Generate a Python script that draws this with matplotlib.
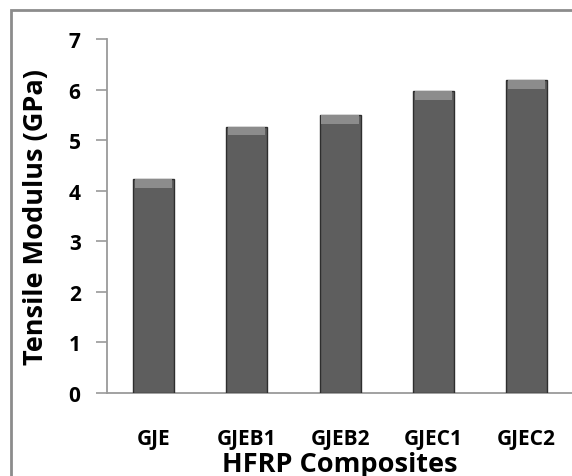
import matplotlib.pyplot as plt
from matplotlib.patches import Rectangle

# data
categories = ['GJE', 'GJEB1', 'GJEB2', 'GJEC1', 'GJEC2']
modulus = [4.23, 5.27, 5.49, 5.97, 6.19]
y_ticks = [0, 1, 2, 3, 4, 5, 6, 7]

plt.rcParams['font.family'] = ['Open Sans', 'DejaVu Sans']
plt.rcParams['font.weight'] = 'bold'

fig = plt.figure(figsize=(5.72, 4.77), dpi=100)
ax = fig.add_axes([0.187, 0.174, 0.815, 0.742])

# outer chart frame (runs off the right and bottom edges)
fig.patches.append(Rectangle((11 / 572, -0.1), 1.2, 1.1 - 11 / 477,
                             transform=fig.transFigure, fill=False,
                             edgecolor='#8c8c8c', linewidth=2))

x = range(len(categories))
ax.bar(x, modulus, width=0.44, color='#5e5e5e', edgecolor='#2e2e2e',
       linewidth=1.0, zorder=3)
# lighter bevel on bar tops
bevel = 0.17
ax.bar(x, [bevel] * len(modulus), bottom=[v - bevel for v in modulus],
       width=0.40, color='#8c8c8c', linewidth=0, zorder=4)

ax.set_xlim(-0.5, 4.5)
ax.set_ylim(0, 7)
ax.set_yticks(y_ticks)
ax.set_xticks(list(x))
ax.set_xticklabels(categories)

for side in ['top', 'right']:
    ax.spines[side].set_visible(False)
for side in ['left', 'bottom']:
    ax.spines[side].set_color('#9a9a9a')
    ax.spines[side].set_linewidth(1.3)

ax.tick_params(axis='y', direction='out', length=8, width=1.2,
               color='#9a9a9a', pad=11, labelsize=15)
ax.tick_params(axis='x', length=0, pad=25, labelsize=15)

ax.set_ylabel('Tensile Modulus (GPa)', fontsize=19.5, fontweight='bold',
              va='center')
ax.yaxis.set_label_coords(-0.152, 0.5)
ax.set_xlabel('HFRP Composites', fontsize=19.5, fontweight='bold',
              va='center')
ax.xaxis.set_label_coords(0.5, -0.2)

fig.savefig('out.png', dpi=100)
